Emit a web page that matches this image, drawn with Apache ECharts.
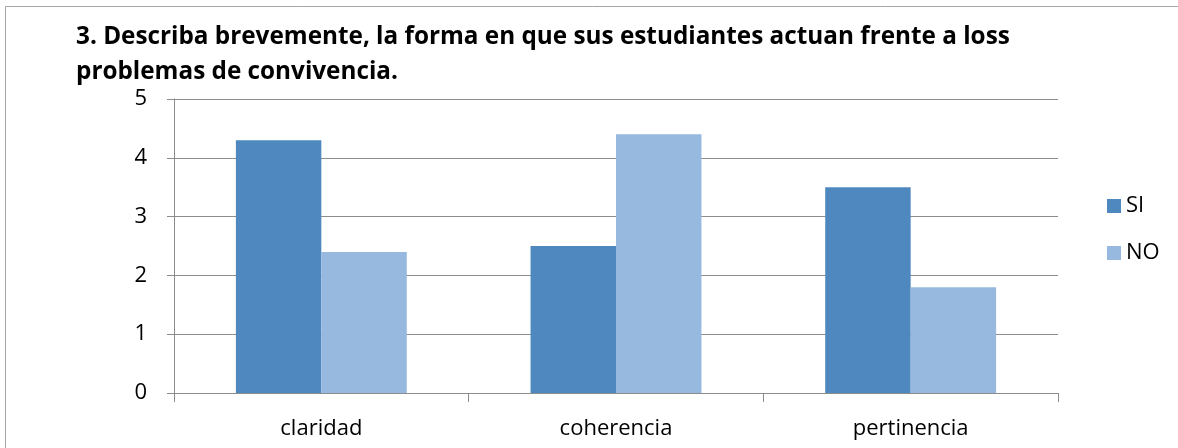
<!DOCTYPE html>
<html>
<head>
<meta charset="utf-8">
<script src="https://cdn.jsdelivr.net/npm/echarts@6/dist/echarts.min.js"></script>
<style>
  html, body { margin: 0; padding: 0; background: #fff; }
  #chart { width: 1178px; height: 448px; }
</style>
</head>
<body>
<div id="chart"></div>
<script>
const titleText = "3. Describa brevemente, la forma en que sus estudiantes actuan frente a loss\nproblemas de convivencia.";
const categories = ["claridad", "coherencia", "pertinencia"];
const siValues = [4.3, 2.5, 3.5];
const noValues = [2.4, 4.4, 1.8];
const yTicks = [0, 1, 2, 3, 4, 5];

const font = "'Open Sans', Lato, sans-serif";
const chart = echarts.init(document.getElementById("chart"));

chart.setOption({
  animation: false,
  backgroundColor: "#fff",
  textStyle: { fontFamily: font },
  title: {
    text: titleText,
    left: 71,
    top: 15,
    textStyle: {
      fontFamily: font,
      fontSize: 24.3,
      fontWeight: "bold",
      color: "#000",
      lineHeight: 35
    }
  },
  graphic: [{
    type: "rect",
    shape: { x: 5.5, y: 6.5, width: 1300, height: 600 },
    style: { fill: "none", stroke: "#a6a6a6", lineWidth: 1 },
    silent: true
  }],
  legend: {
    orient: "vertical",
    left: 1102,
    top: 190,
    itemWidth: 14,
    itemHeight: 14,
    itemGap: 25,
    icon: "rect",
    textStyle: { fontSize: 22, lineHeight: 22, color: "#000", fontFamily: font },
    data: ["SI", "NO"]
  },
  grid: { left: 174, right: 120, top: 99, bottom: 55, containLabel: false },
  xAxis: {
    type: "category",
    data: categories,
    axisLine: { lineStyle: { color: "#8c8c8c" } },
    axisTick: { show: true, length: 9, lineStyle: { color: "#8c8c8c" } },
    axisLabel: { fontSize: 22, color: "#000", margin: 25, fontFamily: font }
  },
  yAxis: {
    type: "value",
    min: yTicks[0],
    max: yTicks[yTicks.length - 1],
    interval: 1,
    axisLine: { show: true, lineStyle: { color: "#8c8c8c" } },
    axisTick: { show: true, length: 7, lineStyle: { color: "#8c8c8c" } },
    splitLine: { lineStyle: { color: "#8c8c8c" } },
    axisLabel: { fontSize: 22, color: "#000", margin: 27, fontFamily: font }
  },
  series: [
    {
      name: "SI",
      type: "bar",
      data: siValues,
      barGap: "0%",
      barCategoryGap: "42%",
      itemStyle: { color: "#4f88be" }
    },
    {
      name: "NO",
      type: "bar",
      data: noValues,
      itemStyle: { color: "#97b8df" }
    }
  ]
});
</script>
</body>
</html>
